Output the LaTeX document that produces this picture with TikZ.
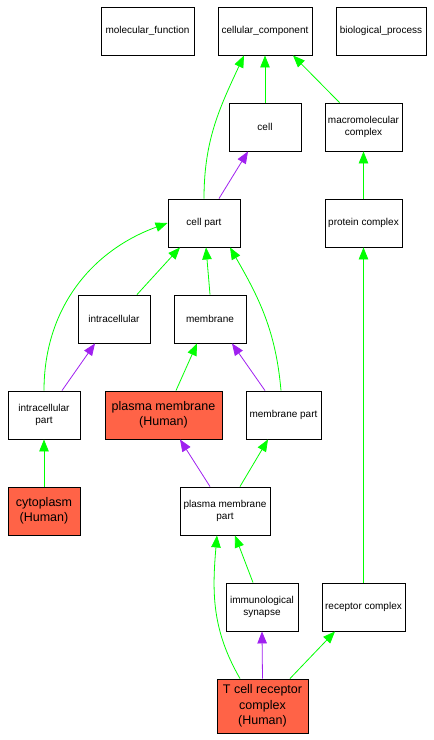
\documentclass[tikz,border=0pt]{standalone}
\usepackage{fontspec}
\setmainfont{Liberation Sans}
\usetikzlibrary{arrows.meta}
\definecolor{isagreen}{HTML}{00FF00}
\definecolor{partpurple}{HTML}{A020F0}
\definecolor{tomato}{HTML}{FF6347}
\begin{document}
\begin{tikzpicture}[x=1pt,y=1pt,
term/.style={draw=black,line width=0.9pt,fill=white,minimum height=48pt,inner sep=1pt,align=center,font=\fontsize{10}{12}\selectfont},
hit/.style={term,fill=tomato,font=\fontsize{12.5}{15.5}\selectfont},
isa/.style={draw=isagreen,line width=0.8pt,-{Triangle[length=12pt,width=9.5pt]}},
partof/.style={isa,draw=partpurple}
]
\useasboundingbox (0,0) rectangle (434,-740);
\node[term,minimum width=93pt] (mf) at (147.5,-31) {molecular\_function};
\node[term,minimum width=94pt] (cc) at (265,-31) {cellular\_component};
\node[term,minimum width=90pt] (bp) at (381,-31) {biological\_process};
\node[term,minimum width=72pt] (cell) at (265,-127) {cell};
\node[term,minimum width=77pt] (macro) at (363.5,-127) {macromolecular\\complex};
\node[term,minimum width=72pt] (cp) at (204,-223) {cell part};
\node[term,minimum width=77pt] (pc) at (363.5,-223) {protein complex};
\node[term,minimum width=72pt] (intra) at (114,-319) {intracellular};
\node[term,minimum width=72pt] (mem) at (210,-319) {membrane};
\node[term,minimum width=72pt] (ip) at (44,-415) {intracellular\\part};
\node[hit,minimum width=117pt] (pm) at (163.5,-415) {plasma membrane\\(Human)};
\node[term,minimum width=75pt] (mp) at (283.5,-415) {membrane part};
\node[hit,minimum width=72pt] (cyto) at (44,-511) {cytoplasm\\(Human)};
\node[term,minimum width=90pt] (pmp) at (225,-511) {plasma membrane\\part};
\node[term,minimum width=72pt] (is) at (262,-607) {immunological\\synapse};
\node[term,minimum width=83pt] (rc) at (363.5,-607) {receptor complex};
\node[hit,minimum width=91pt,minimum height=54pt] (tcr) at (262.5,-706) {T cell receptor\\complex\\(Human)};
\draw[isa] (cp.north) to[out=90,in=-115] ([xshift=-21]cc.south);
\draw[isa] (cell.north) -- (cc.south);
\draw[isa] ([xshift=-24]macro.north) -- ([xshift=28]cc.south);
\draw[partof] ([xshift=15]cp.north) -- ([xshift=-17]cell.south);
\draw[isa] (pc.north) -- (macro.south);
\draw[isa] (ip.north) to[out=90,in=200] (cp.west);
\draw[isa] ([xshift=23]intra.north) -- ([xshift=-24]cp.south);
\draw[isa] (mem.north) -- ([xshift=2]cp.south);
\draw[isa] ([xshift=-2.5]mp.north) to[out=95,in=-60] ([xshift=26]cp.south);
\draw[partof] ([xshift=18]ip.north) -- ([xshift=-19]intra.south);
\draw[isa] ([xshift=12.5]pm.north) -- ([xshift=-13]mem.south);
\draw[partof] ([xshift=-18.5]mp.north) -- ([xshift=22]mem.south);
\draw[isa] (cyto.north) -- (ip.south);
\draw[partof] ([xshift=-15]pmp.north) -- ([xshift=16.5]pm.south);
\draw[isa] ([xshift=15]pmp.north) -- ([xshift=-15.5]mp.south);
\draw[isa] ([xshift=-22.5]tcr.north) to[out=120,in=-95] ([xshift=-8]pmp.south);
\draw[isa] ([xshift=-9]is.north) -- ([xshift=10]pmp.south);
\draw[partof] (tcr.north) -- (is.south);
\draw[isa] ([xshift=27.5]tcr.north) -- ([xshift=-28.5]rc.south);
\draw[isa] (rc.north) -- (pc.south);
\end{tikzpicture}
\end{document}
